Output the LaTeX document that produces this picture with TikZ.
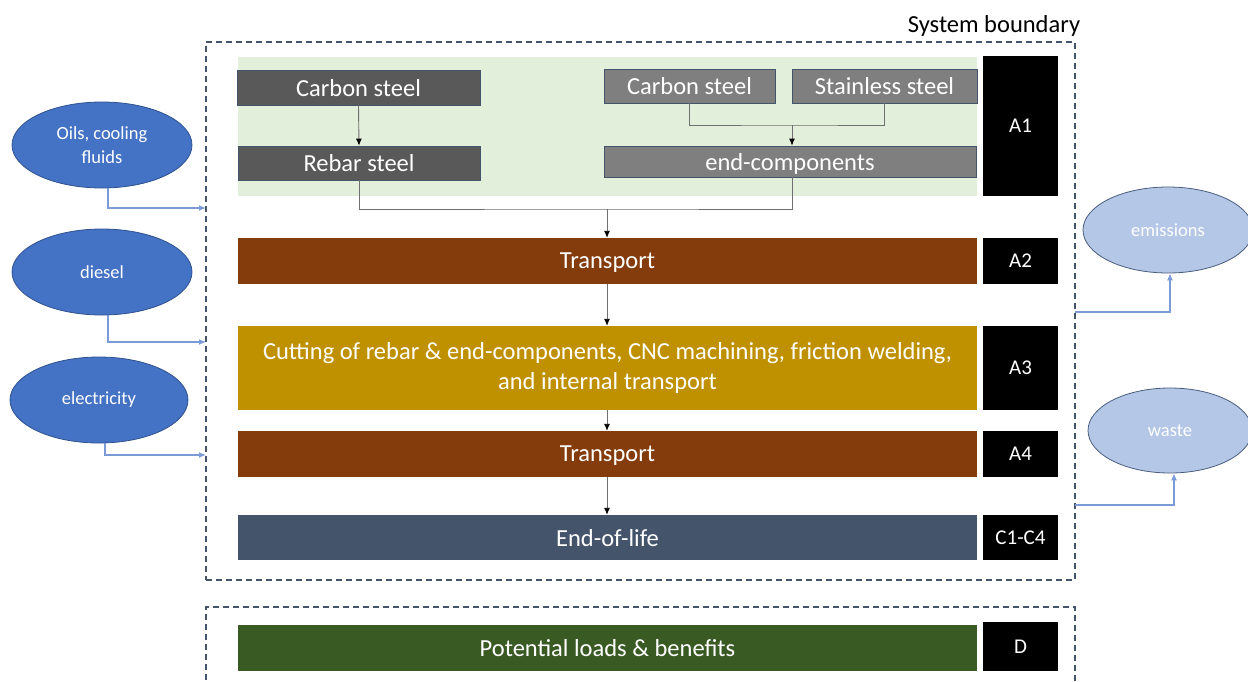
\documentclass[tikz,border=0pt]{standalone}
\usepackage{fontspec}
\setmainfont{Carlito}
\usetikzlibrary{shapes.geometric,arrows.meta}
\definecolor{bnd}{HTML}{44546A}
\definecolor{greenbg}{HTML}{E2EFDA}
\definecolor{dgray}{HTML}{595959}
\definecolor{mgray}{HTML}{7F7F7F}
\definecolor{brown}{HTML}{843C0C}
\definecolor{gold}{HTML}{BF9000}
\definecolor{slate}{HTML}{44546A}
\definecolor{dgreen}{HTML}{3A5A24}
\definecolor{eblue}{HTML}{4472C4}
\definecolor{eblueb}{HTML}{2F528F}
\definecolor{lblue}{HTML}{B4C7E7}
\definecolor{lblueb}{HTML}{4A5D7E}
\definecolor{cblue}{HTML}{7B9BD6}
\definecolor{cgray}{HTML}{6F6F6F}
\begin{document}
\begin{tikzpicture}[x=1pt,y=-1pt,
  bigtxt/.style={font=\fontsize{24.5}{30}\selectfont},
  matbox/.style={bigtxt, text=white, draw=bnd, line width=0.8pt, inner sep=0pt, align=center, text depth=0pt},
  stagebox/.style={bigtxt, text=white, draw=none, inner sep=0pt, align=center, minimum width=739},
  onelinebox/.style={stagebox, text depth=0pt},
  codebox/.style={font=\fontsize{21}{24}\selectfont, text=white, fill=black, inner sep=0pt, minimum width=75},
  inell/.style={ellipse, fill=eblue, draw=eblueb, line width=0.8pt, inner sep=0pt, text=white, align=center, font=\fontsize{18.5}{24}\selectfont},
  outell/.style={ellipse, fill=lblue, draw=lblueb, line width=0.8pt, inner sep=0pt, text=white, align=center, font=\fontsize{18.5}{24}\selectfont},
  boundary/.style={draw=bnd, line width=1.4pt, dash pattern=on 6pt off 4pt},
  conn/.style={draw=cgray, line width=0.9pt},
  arr/.style={conn, -{Latex[length=7pt,width=6pt,color=black]}},
  bconn/.style={draw=cblue, line width=1.2pt},
  barr/.style={bconn, -{Latex[length=7pt,width=6pt]}}
]
\useasboundingbox (0,0) rectangle (1248,681);

% boundaries
\node[boundary, minimum width=869, minimum height=538, inner sep=0pt] (sysb) at (640.5,311) {};
\node[bigtxt, anchor=center] (sblabel) at (994,26) {System boundary};
\coordinate (d1) at (206,700);
\coordinate (d2) at (206,607);
\coordinate (d3) at (1075,607);
\coordinate (d4) at (1075,700);
\draw[boundary] (d1) -- (d2) -- (d3) -- (d4);

% A1 background
\fill[greenbg] (238,57) rectangle (977,196);

% materials
\node[matbox, fill=dgray, minimum width=243, minimum height=35] (cs1) at (358.5,87.5) {Carbon steel};
\node[matbox, fill=dgray, minimum width=242, minimum height=34] (rebar) at (359,163) {Rebar steel};
\node[matbox, fill=mgray, minimum width=171, minimum height=34] (cs2) at (689.5,86) {Carbon steel};
\node[matbox, fill=mgray, minimum width=185, minimum height=34] (ss) at (884.5,86) {Stainless steel};
\node[matbox, fill=mgray, minimum width=372, minimum height=31] (endc) at (790,161.5) {end-components};

% stages
\node[onelinebox, fill=brown, minimum height=46] (tr1) at (607.5,261) {Transport};
\node[stagebox, fill=gold, minimum height=84] (cut) at (607.5,368) {Cutting of rebar \& end-components, CNC machining, friction welding,\\ and internal transport};
\node[onelinebox, fill=brown, minimum height=46] (tr2) at (607.5,454) {Transport};
\node[onelinebox, fill=slate, minimum height=45] (eol) at (607.5,537.5) {End-of-life};
\node[onelinebox, fill=dgreen, minimum height=46] (pot) at (607.5,648) {Potential loads \& benefits};

% codes
\node[codebox, minimum height=140] (a1) at (1020.5,126) {A1};
\node[codebox, minimum height=46] (a2) at (1020.5,261) {A2};
\node[codebox, minimum height=84] (a3) at (1020.5,368) {A3};
\node[codebox, minimum height=46] (a4) at (1020.5,454) {A4};
\node[codebox, minimum height=45] (c14) at (1020.5,537.5) {C1-C4};
\node[codebox, minimum height=49] (dd) at (1020.5,646.5) {D};

% inputs
\node[inell, minimum width=180, minimum height=86] (oils) at (102,145) {Oils, cooling\\fluids};
\node[inell, minimum width=180, minimum height=86] (diesel) at (102,272) {diesel};
\node[inell, minimum width=178, minimum height=86] (elec) at (99,400) {electricity};

% outputs
\node[outell, minimum width=170, minimum height=86] (emis) at (1168,230) {emissions};
\node[outell, minimum width=164, minimum height=85] (waste) at (1170,430.5) {waste};

% black flow connectors
\draw[arr] (cs1.south) -- (rebar.north);
\coordinate (j2) at (792,125);
\draw[conn] (cs2.south) |- (j2) -| (ss.south);
\draw[arr] (j2) -- (j2 |- endc.north);
\coordinate (j1) at (607,209);
\draw[conn] (rebar.south) |- (j1) -| ([xshift=2pt]endc.south);
\draw[arr] (j1) -- (j1 |- tr1.north);
\draw[arr] ([xshift=-0.5pt]tr1.south) -- ([xshift=-0.5pt]cut.north);
\draw[arr] ([xshift=-0.5pt]cut.south) -- ([xshift=-0.5pt]tr2.north);
\draw[arr] ([xshift=-0.5pt]tr2.south) -- ([xshift=-0.5pt]eol.north);

% blue input connectors
\coordinate (in1) at (206,208);
\coordinate (in2) at (206,342);
\coordinate (in3) at (206,455);
\draw[barr] ([xshift=6pt]oils.south) |- (in1);
\draw[barr] ([xshift=6pt]diesel.south) |- (in2);
\draw[barr] ([xshift=6pt]elec.south) |- (in3);

% blue output connectors
\coordinate (out1) at (1075,312);
\coordinate (out2) at (1075,505);
\draw[barr] (out1) -| ([xshift=2pt]emis.south);
\draw[barr] (out2) -| ([xshift=4pt]waste.south);
\end{tikzpicture}
\end{document}
